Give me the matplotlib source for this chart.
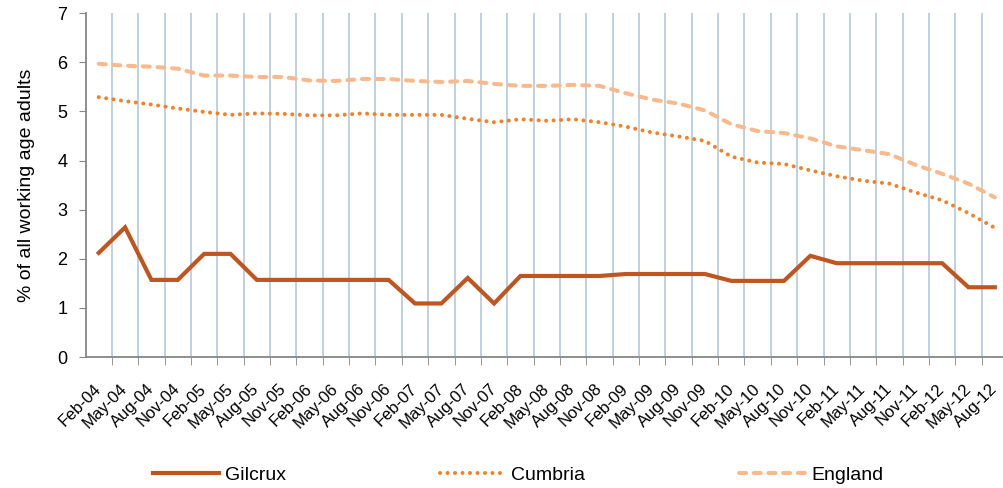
import matplotlib
matplotlib.use('Agg')
import matplotlib.pyplot as plt
import numpy as np

plt.rcParams['font.family'] = ['Liberation Sans', 'DejaVu Sans']

# quarterly labels
quarters = ["Feb", "May", "Aug", "Nov"]
periods = [f"{m}-{y:02d}" for y in range(4, 13) for m in quarters][:35]

gilcrux = [2.12, 2.64, 1.57, 1.57, 2.10, 2.10, 1.57, 1.57, 1.57, 1.57,
           1.57, 1.57, 1.09, 1.09, 1.61, 1.09, 1.65, 1.65, 1.65, 1.65,
           1.69, 1.69, 1.69, 1.69, 1.55, 1.55, 1.55, 2.06, 1.91, 1.91,
           1.91, 1.91, 1.91, 1.42, 1.42]
cumbria = [5.29, 5.21, 5.14, 5.06, 4.99, 4.93, 4.96, 4.95, 4.92, 4.92,
           4.96, 4.93, 4.93, 4.93, 4.85, 4.78, 4.84, 4.81, 4.84, 4.78,
           4.69, 4.57, 4.49, 4.40, 4.08, 3.96, 3.93, 3.80, 3.68, 3.59,
           3.53, 3.35, 3.19, 2.93, 2.63]
england = [5.97, 5.93, 5.91, 5.87, 5.73, 5.73, 5.70, 5.70, 5.63, 5.62,
           5.66, 5.66, 5.62, 5.60, 5.62, 5.56, 5.52, 5.52, 5.54, 5.52,
           5.37, 5.24, 5.16, 5.02, 4.74, 4.60, 4.56, 4.45, 4.29, 4.21,
           4.13, 3.91, 3.73, 3.53, 3.25]

fig = plt.figure(figsize=(10.04, 4.88), dpi=100)
ax = fig.add_axes([0.0852, 0.2684, 0.9188, 0.7046])

x = np.arange(len(periods))
ax.plot(x, gilcrux, color='#C0561F', lw=3, label='Gilcrux', solid_joinstyle='miter')
ax.plot(x, cumbria, color='#F58025', lw=2.9, linestyle=(0, (0.01, 1.85)),
        dash_capstyle='round', label='Cumbria')
ax.plot(x, england, color='#FAB98A', lw=2.9, linestyle=(0, (1.75, 1.9)),
        dash_capstyle='round', label='England')

ax.set_xlim(-0.5, len(periods) - 0.5)
ax.set_ylim(0, 7)
ax.set_yticks(range(0, 8))
ax.tick_params(axis='y', labelsize=13, length=5, color='#868686', pad=8)

ax.set_xticks(x)
ax.set_xticklabels(periods, rotation=45, ha='right', va='center',
                   rotation_mode='anchor', fontsize=12)
ax.tick_params(axis='x', which='major', length=0, pad=21)
ax.set_xticks(np.arange(0.5, len(periods), 1), minor=True)
ax.tick_params(axis='x', which='minor', length=6, color='#868686')
ax.grid(axis='x', which='minor', color='#B9CDE5', lw=1.3)
ax.set_axisbelow(True)

for s in ['top', 'right']:
    ax.spines[s].set_visible(False)
for s in ['left', 'bottom']:
    ax.spines[s].set_color('#868686')
    ax.spines[s].set_linewidth(1.3)

ax.set_ylabel('% of all working age adults', fontsize=14, labelpad=16)

fig.legend(loc='center', bbox_to_anchor=(0.516, 0.026), ncol=3, frameon=False,
           fontsize=14, handlelength=3.4, columnspacing=7.9, handletextpad=0.3)

fig.savefig('out.png', dpi=100, facecolor='white')
